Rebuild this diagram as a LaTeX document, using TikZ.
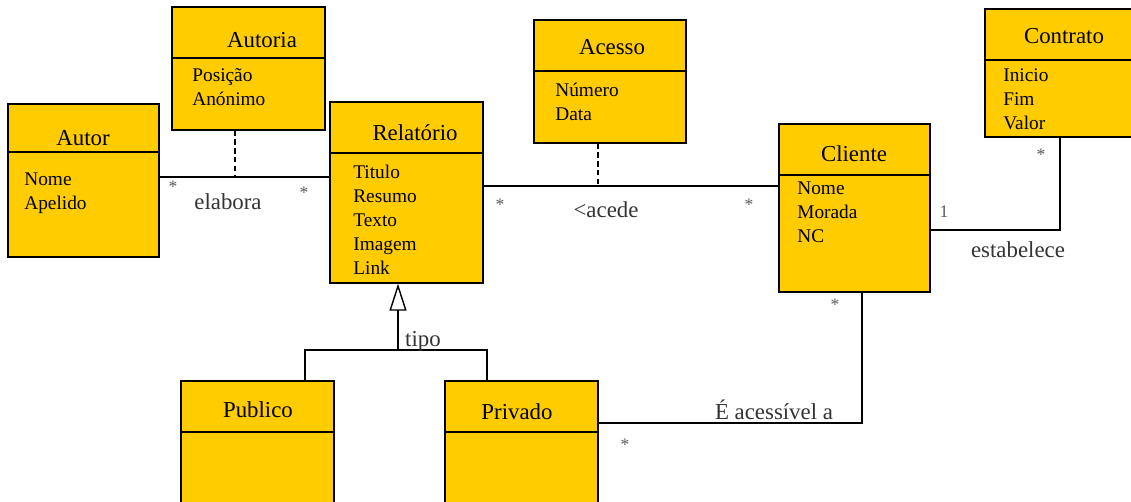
\documentclass[tikz,border=0pt]{standalone}
\usepackage{fontspec}
\setmainfont{Liberation Serif}
\usetikzlibrary{arrows.meta}
\definecolor{classfill}{RGB}{255,204,0}
\tikzset{
	classbox/.style={draw, fill=classfill, line width=0.8pt, inner sep=0pt},
	classtitle/.style={font=\fontsize{13}{15}\selectfont, anchor=base},
	classattr/.style={font=\fontsize{11}{13.8}\selectfont, anchor=base west, align=left, inner sep=0pt},
	assoc/.style={line width=0.8pt},
	linkdash/.style={line width=0.8pt, dash pattern=on 3pt off 2pt},
	mult/.style={font=\fontsize{10}{12}\selectfont, text=black!65},
	rolename/.style={font=\fontsize{13}{15}\selectfont, text=black!80, anchor=base},
}

\begin{document}
\begin{tikzpicture}[x=0.02cm, y=-0.02cm]
			%%%%% START %%%%%
			\useasboundingbox (0,0) rectangle (1131,502);
			
			% Autor
			\node[classbox, minimum width=3.02cm, minimum height=3.06cm] (autor) at (83.5,180.5) {};
			\draw[assoc] (autor.west |- 0,152) -- (autor.east |- 0,152);
			\node[classtitle] (autorT) at (83,146) {Autor};
			\node[classattr] (autorA) at (24,210) {Nome\\Apelido};
			
			% Autoria
			\node[classbox, minimum width=3.06cm, minimum height=2.46cm] (autoria) at (248.5,68.5) {};
			\draw[assoc] (autoria.west |- 0,58) -- (autoria.east |- 0,58);
			\node[classtitle] (autoriaT) at (262,48) {Autoria};
			\node[classattr] (autoriaA) at (192,106) {Posição\\Anónimo};
			
			% Relatorio
			\node[classbox, minimum width=3.06cm, minimum height=3.62cm] (relatorio) at (406.5,192.5) {};
			\draw[assoc] (relatorio.west |- 0,153) -- (relatorio.east |- 0,153);
			\node[classtitle] (relatorioT) at (415,141) {Relatório};
			\node[classattr] (relatorioA) at (353,275) {Titulo\\Resumo\\Texto\\Imagem\\Link};
			
			% Acesso
			\node[classbox, minimum width=3.04cm, minimum height=2.46cm] (acesso) at (610,81.5) {};
			\draw[assoc] (acesso.west |- 0,71) -- (acesso.east |- 0,71);
			\node[classtitle] (acessoT) at (612,55) {Acesso};
			\node[classattr] (acessoA) at (555,121) {Número\\Data};
			
			% Cliente
			\node[classbox, minimum width=3.02cm, minimum height=3.36cm] (cliente) at (854.5,208) {};
			\draw[assoc] (cliente.west |- 0,175) -- (cliente.east |- 0,175);
			\node[classtitle] (clienteT) at (854,162) {Cliente};
			\node[classattr] (clienteA) at (797,243) {Nome\\Morada\\NC};
			
			% Contrato
			\node[classbox, minimum width=2.96cm, minimum height=2.56cm] (contrato) at (1059,73) {};
			\draw[assoc] (contrato.west |- 0,60) -- (contrato.east |- 0,60);
			\node[classtitle] (contratoT) at (1064,44) {Contrato};
			\node[classattr] (contratoA) at (1003,130) {Inicio\\Fim\\Valor};
			
			% Publico / Privado
			\node[classbox, minimum width=3.06cm, minimum height=2.78cm] (publico) at (257.5,450.5) {};
			\draw[assoc] (publico.west |- 0,432) -- (publico.east |- 0,432);
			\node[classtitle] (publicoT) at (258,418) {Publico};
			
			\node[classbox, minimum width=3.06cm, minimum height=2.78cm] (privado) at (521.5,450.5) {};
			\draw[assoc] (privado.west |- 0,432) -- (privado.east |- 0,432);
			\node[classtitle] (privadoT) at (517,419) {Privado};
			
			% elabora
			\coordinate (elab) at (235,177);
			\draw[assoc] (autor.east |- elab) -- (relatorio.west |- elab);
			\draw[linkdash] (autoria.south -| elab) -- (elab);
			\node[mult] (elabM1) at (173,187) {*};
			\node[rolename] (elabL) at (228,210) {elabora};
			\node[mult] (elabM2) at (304,193) {*};
			
			% acede
			\coordinate (aced) at (598,186);
			\draw[assoc] (relatorio.east |- aced) -- (cliente.west |- aced);
			\draw[linkdash] (acesso.south -| aced) -- (aced);
			\node[mult] (acedM1) at (500,205) {*};
			\node[rolename] (acedL) at (606,218) {<acede};
			\node[mult] (acedM2) at (749,205) {*};
			
			% estabelece
			\coordinate (estab) at (1060,230);
			\draw[assoc] (cliente.east |- estab) -- (estab) -- (contrato.south -| estab);
			\node[mult] (estabM1) at (944,212) {1};
			\node[rolename] (estabL) at (1018,258) {estabelece};
			\node[mult] (estabM2) at (1041,155) {*};
			
			% tipo
			\coordinate (gen) at (398,350);
			\coordinate (genL) at (305,350);
			\coordinate (genR) at (487,350);
			\draw[assoc] (publico.north -| genL) -- (genL) -- (genR) -- (privado.north -| genR);
			\draw[assoc, -{Triangle[open, length=0.54cm, width=0.34cm]}] (gen) -- (relatorio.south -| gen);
			\node[rolename] (genT) at (423,347) {tipo};
			
			% acessivel
			\coordinate (acess) at (862,423);
			\draw[assoc] (privado.east |- acess) -- (acess) -- (cliente.south -| acess);
			\node[rolename] (acessL) at (774,419) {É acessível a};
			\node[mult] (acessM1) at (625,445) {*};
			\node[mult] (acessM2) at (835,305) {*};
			
			%%%%% END %%%%%
\end{tikzpicture}
\end{document}
